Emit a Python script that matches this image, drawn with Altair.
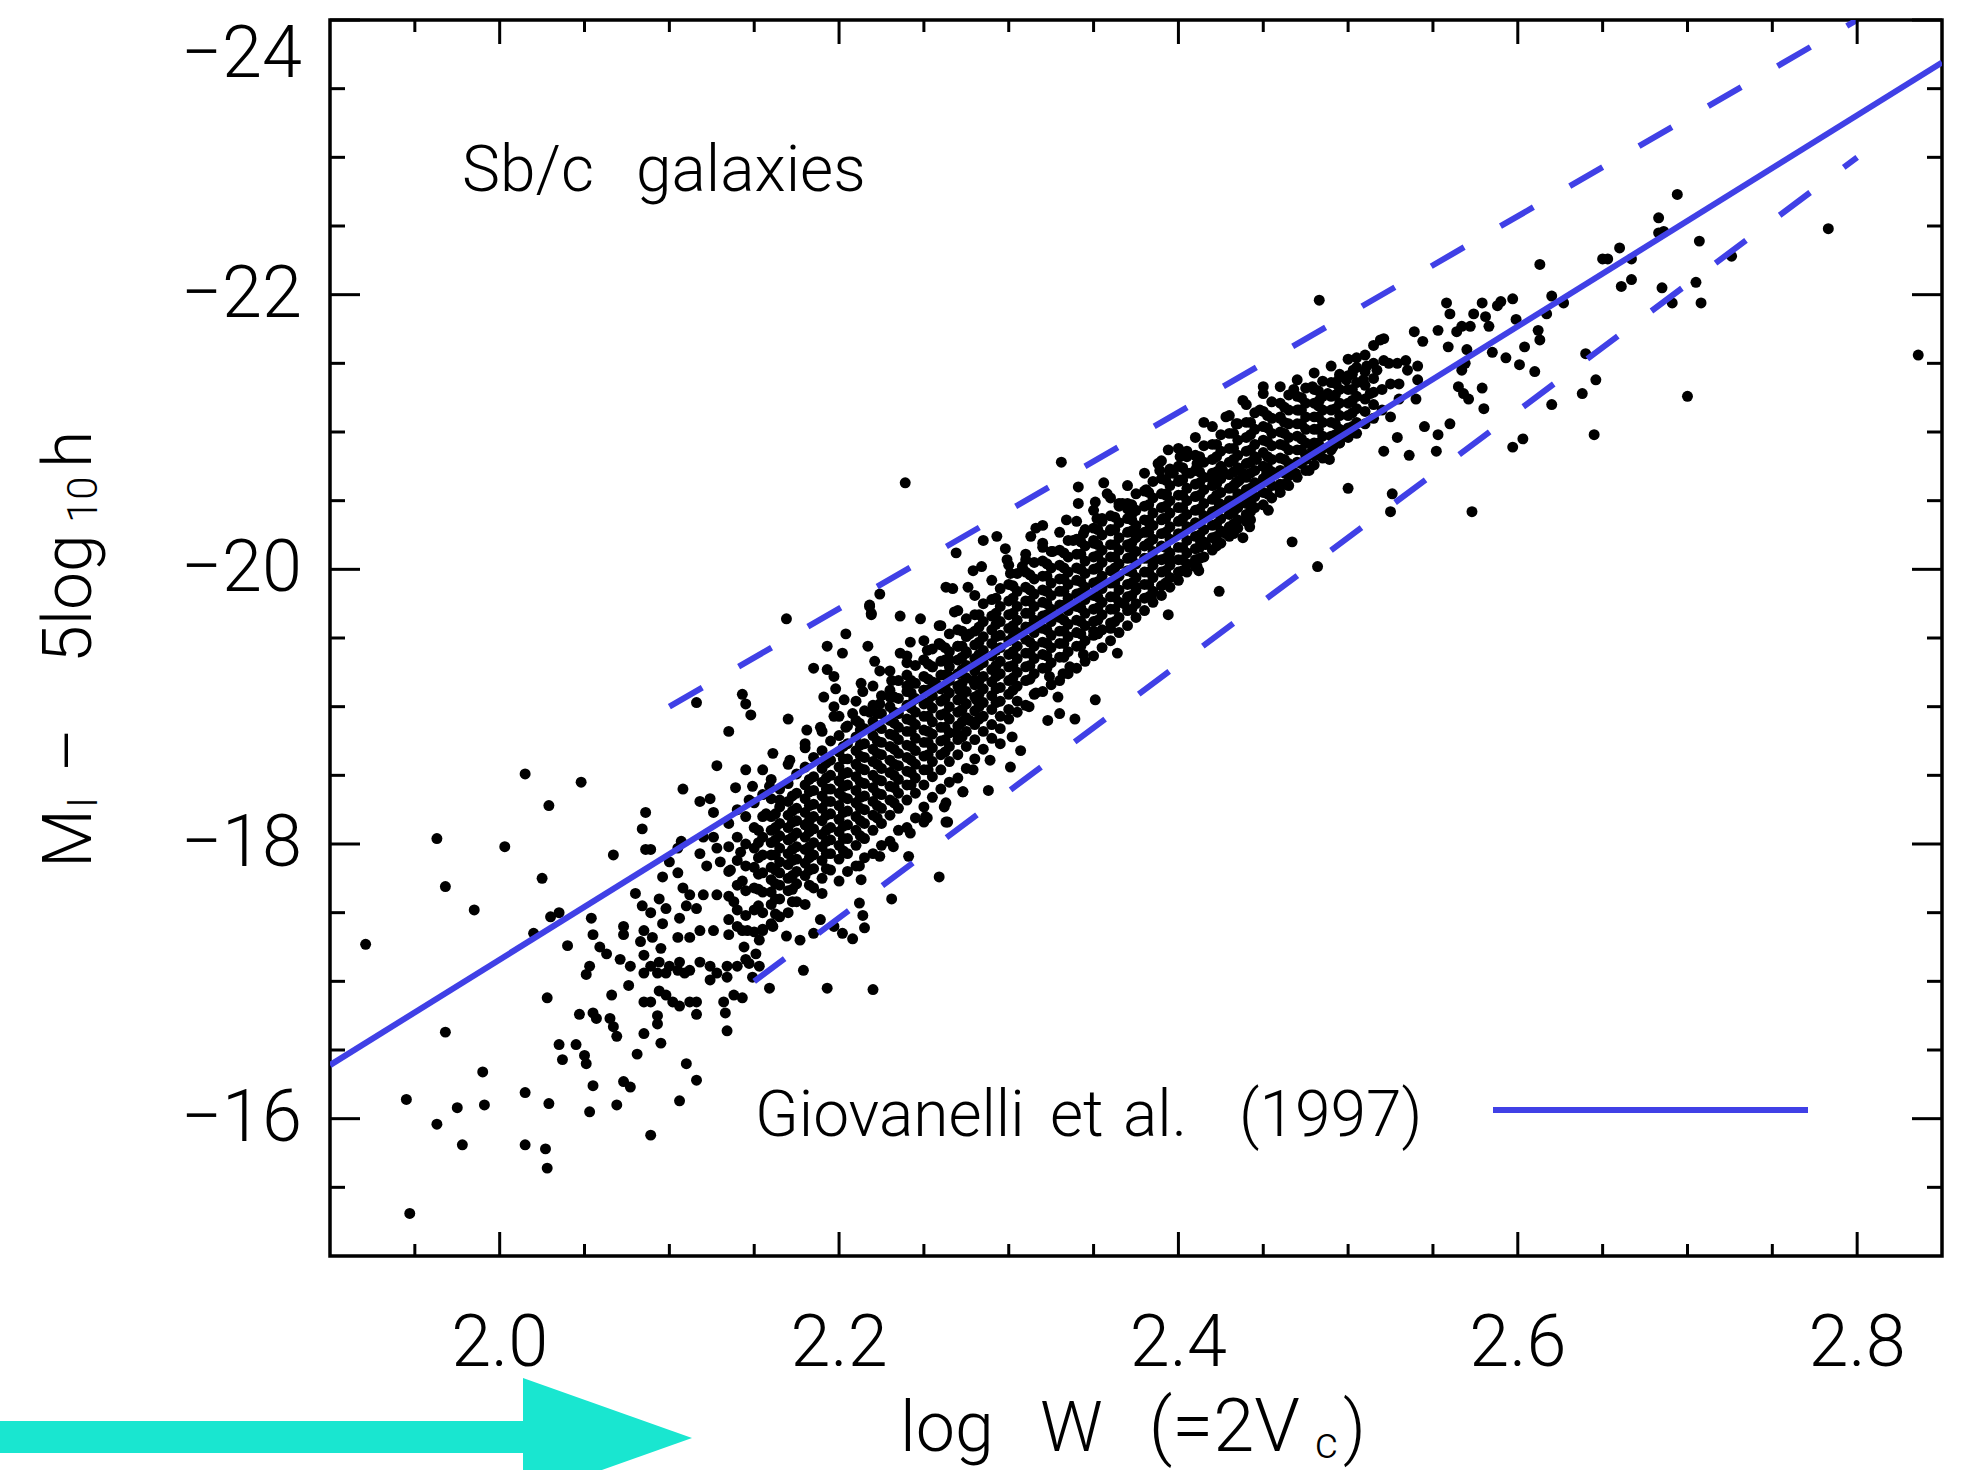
import altair as alt
import pandas as pd

# ---------------- data ----------------
x_major = [2.0, 2.2, 2.4, 2.6, 2.8]
x_labels = ["2.0", "2.2", "2.4", "2.6", "2.8"]
x_minor = [1.95, 2.05, 2.1, 2.15, 2.25, 2.3, 2.35, 2.45, 2.5, 2.55, 2.65, 2.7, 2.75]
y_major = [-24, -22, -20, -18, -16]
y_labels = ["\u221224", "\u221222", "\u221220", "\u221218", "\u221216"]
y_minor = [-23.5, -23, -22.5, -21.5, -21, -20.5, -19.5, -19, -18.5, -17.5, -17, -16.5, -15.5]

fit_x = [1.9, 2.85]
fit_y = [-16.39, -23.69]
upper_x = [2.1, 2.8]
upper_y = [-19.0, -24.0]
lower_x = [2.15, 2.8]
lower_y = [-17.0, -23.0]

pts_lowleft = [
    (2.116, -19.03), (2.135, -18.82), (2.128, -18.57), (2.139, -18.41), (2.108, -18.40), (2.015, -18.51),
    (2.048, -18.45), (2.029, -18.28), (1.963, -18.04), (2.003, -17.98), (1.968, -17.69), (1.985, -17.52),
    (1.921, -17.27), (2.025, -17.75), (2.030, -17.47), (2.035, -17.50), (2.020, -17.35), (2.040, -17.26),
    (2.067, -17.92), (2.086, -18.23), (2.084, -18.11), (2.086, -17.96), (2.089, -17.96), (2.107, -18.02),
    (2.105, -17.97), (2.118, -18.31), (2.124, -18.33), (2.126, -18.23), (2.120, -18.05), (2.126, -18.05),
    (2.118, -17.93), (2.128, -17.97), (2.100, -17.87), (2.096, -17.76), (2.105, -17.79), (2.108, -17.68),
    (2.112, -17.63), (2.122, -17.84), (2.130, -17.87), (2.136, -17.81), (2.142, -17.94), (2.143, -17.73),
    (2.138, -17.58), (2.128, -17.63), (2.120, -17.63), (2.116, -17.53), (2.118, -17.37), (2.126, -17.37),
    (2.135, -17.34), (2.143, -17.37), (2.080, -17.64), (2.084, -17.55), (2.089, -17.50), (2.094, -17.60),
    (2.098, -17.53), (2.096, -17.42), (2.106, -17.46), (2.110, -17.55), (2.054, -17.46), (2.055, -17.34),
    (2.059, -17.25), (2.063, -17.20), (2.053, -17.11), (2.051, -17.05), (2.073, -17.40), (2.073, -17.34),
    (2.083, -17.29), (2.085, -17.37), (2.090, -17.32), (2.095, -17.24), (2.105, -17.32), (2.112, -17.32),
    (2.071, -17.16), (2.077, -17.11), (2.085, -17.19), (2.089, -17.11), (2.094, -17.14), (2.100, -17.11),
    (2.106, -17.14), (2.112, -17.08), (2.118, -17.14), (2.124, -17.11), (2.128, -17.06), (2.134, -17.11),
    (2.124, -17.01), (2.134, -17.03), (2.140, -17.11), (2.145, -17.16), (2.085, -17.06), (2.093, -17.06),
    (2.098, -17.06), (2.105, -17.08), (2.109, -17.06), (2.076, -16.97), (2.066, -16.90), (2.085, -16.85),
    (2.089, -16.85), (2.094, -16.93), (2.098, -16.90), (2.102, -16.85), (2.106, -16.82), (2.112, -16.85),
    (2.116, -16.85), (2.116, -16.76), (2.132, -16.85), (2.133, -16.77), (2.138, -16.90), (2.143, -16.88),
    (2.047, -16.76), (2.055, -16.77), (2.057, -16.73), (2.065, -16.73), (2.067, -16.67), (2.069, -16.60),
    (2.093, -16.75), (2.093, -16.69), (2.085, -16.62), (2.095, -16.55), (2.081, -16.47), (2.035, -16.54),
    (2.045, -16.54), (2.037, -16.43), (2.050, -16.46), (2.051, -16.40), (2.134, -16.64), (2.110, -16.40),
    (2.116, -16.28), (2.055, -16.24), (2.073, -16.27), (2.077, -16.23), (2.015, -16.19), (2.029, -16.11),
    (1.990, -16.34), (1.991, -16.10), (1.975, -16.08), (1.945, -16.14), (1.963, -15.96), (1.978, -15.81),
    (2.015, -15.81), (2.027, -15.78), (2.028, -15.64), (2.053, -16.05), (2.069, -16.10), (2.106, -16.13),
    (2.089, -15.88), (1.947, -15.31), (1.968, -16.63), (2.028, -16.88),
]

pts_mid = [
    (2.169, -19.64), (2.218, -19.73), (2.219, -19.67), (2.236, -19.66), (2.248, -19.64), (2.268, -19.69),
    (2.259, -19.59), (2.277, -19.53), (2.204, -19.53), (2.193, -19.44), (2.202, -19.39), (2.217, -19.44),
    (2.242, -19.47), (2.252, -19.41), (2.259, -19.46), (2.270, -19.44), (2.185, -19.28), (2.193, -19.27),
    (2.221, -19.33), (2.236, -19.39), (2.240, -19.32), (2.250, -19.34), (2.255, -19.29), (2.265, -19.34),
    (2.275, -19.39), (2.143, -19.09), (2.145, -19.02), (2.148, -18.94), (2.170, -18.91), (2.197, -19.22),
    (2.198, -19.13), (2.203, -19.05), (2.191, -19.07), (2.197, -19.00), (2.213, -19.17), (2.214, -19.11),
    (2.224, -19.26), (2.231, -19.19), (2.230, -19.07), (2.224, -19.02), (2.240, -19.15), (2.244, -19.05),
    (2.250, -19.12), (2.257, -19.17), (2.265, -19.22), (2.271, -19.12), (2.279, -19.19), (2.218, -18.96),
    (2.208, -18.95), (2.212, -18.88), (2.204, -18.85), (2.197, -18.93), (2.189, -18.85), (2.181, -18.83),
    (2.180, -18.73), (2.171, -18.61), (2.161, -18.66), (2.155, -18.54), (2.145, -18.54), (2.149, -18.42),
    (2.159, -18.42), (2.165, -18.32), (2.157, -18.22), (2.147, -18.32),
    (2.259, -17.76), (2.273, -18.38), (2.263, -18.30), (2.251, -18.20), (2.264, -18.16), (2.242, -18.08),
    (2.241, -17.91), (2.232, -17.98), (2.224, -17.91), (2.231, -17.60), (2.212, -17.84), (2.213, -17.74),
    (2.212, -17.57), (2.214, -17.48), (2.215, -17.39), (2.208, -17.31), (2.202, -17.35), (2.193, -16.95),
    (2.220, -16.94), (2.179, -17.08), (2.159, -16.95), (2.153, -17.11), (2.151, -17.20), (2.153, -17.30),
    (2.155, -17.37), (2.161, -17.40), (2.169, -17.33), (2.177, -17.30), (2.185, -17.35), (2.189, -17.45),
    (2.197, -17.40), (2.146, -17.37), (2.144, -17.25), (2.147, -17.13), (2.149, -17.03),
]

pts_upper = [
    (2.239, -20.63), (2.224, -19.82), (2.218, -19.74), (2.219, -19.68), (2.269, -20.12), (2.263, -19.87),
    (2.267, -19.86), (2.276, -19.87), (2.279, -19.99), (2.284, -20.02), (2.285, -20.21), (2.293, -20.24),
    (2.298, -20.15), (2.299, -20.07), (2.301, -19.97), (2.308, -20.02), (2.310, -20.07), (2.316, -20.30),
    (2.320, -20.32), (2.313, -20.24), (2.320, -20.16), (2.326, -20.13), (2.334, -20.36), (2.341, -20.60),
    (2.341, -20.48), (2.338, -20.21), (2.351, -20.49), (2.356, -20.63), (2.358, -20.55), (2.352, -20.37),
    (2.355, -20.35), (2.344, -20.26), (2.350, -20.21), (2.360, -20.29), (2.365, -20.48), (2.370, -20.44),
    (2.371, -20.16), (2.377, -20.26), (2.383, -20.33), (2.391, -20.37), (2.393, -20.55), (2.401, -20.65),
    (2.407, -20.70), (2.411, -20.75), (2.420, -20.65), (2.426, -20.72), (2.434, -20.63), (2.438, -20.70),
    (2.381, -20.58), (2.389, -20.72), (2.395, -20.70), (2.331, -20.78),
    (2.424, -19.84), (2.394, -19.67), (2.412, -19.99), (2.384, -19.80), (2.364, -19.39), (2.351, -19.05),
    (2.339, -18.91), (2.329, -19.07), (2.330, -18.95), (2.323, -18.90), (2.344, -19.38), (2.336, -19.29),
    (2.332, -19.24), (2.324, -19.22), (2.316, -19.10), (2.312, -19.00), (2.307, -18.68), (2.302, -18.78),
    (2.301, -18.56), (2.295, -18.73), (2.289, -18.61), (2.279, -18.54), (2.288, -18.39), (2.273, -18.38),
    (2.262, -18.27), (2.263, -18.16), (2.252, -18.19), (2.281, -19.05), (2.277, -18.90), (2.269, -18.81),
]

pts_ridge = [
    (2.483, -21.96), (2.467, -20.20), (2.482, -20.02), (2.350, -19.55), (2.360, -19.57), (2.453, -20.43),
    (2.438, -20.23), (2.442, -20.31), (2.428, -20.26), (2.413, -20.20), (2.411, -20.02), (2.416, -20.18),
    (2.395, -20.07), (2.386, -20.07), (2.375, -19.87), (2.368, -19.75), (2.459, -20.60), (2.458, -20.70),
    (2.452, -20.70), (2.446, -20.80), (2.436, -20.65), (2.434, -20.50), (2.440, -20.55), (2.424, -20.48),
    (2.469, -20.70), (2.477, -20.72), (2.475, -20.80), (2.479, -20.87), (2.491, -20.89), (2.495, -20.92),
    (2.497, -20.99), (2.489, -20.80), (2.500, -20.59), (2.367, -20.48), (2.373, -20.41), (2.388, -20.77),
    (2.394, -20.87), (2.397, -20.70), (2.401, -20.82), (2.405, -20.86), (2.411, -20.77), (2.415, -21.07),
    (2.428, -21.11), (2.434, -21.06), (2.438, -21.23), (2.448, -21.16), (2.450, -21.33), (2.460, -21.11),
    (2.468, -21.31), (2.471, -21.16), (2.479, -21.33), (2.483, -21.23), (2.488, -21.28), (2.493, -21.35),
    (2.495, -21.40), (2.499, -21.38), (2.505, -21.54), (2.511, -21.48), (2.517, -21.45), (2.503, -21.45),
    (2.509, -21.38), (2.513, -21.28), (2.519, -21.67), (2.515, -21.63),
]

pts_right = [
    (2.694, -22.73), (2.683, -22.56), (2.683, -22.45), (2.686, -22.46), (2.707, -22.39), (2.783, -22.48),
    (2.660, -22.34), (2.650, -22.26), (2.653, -22.26), (2.667, -22.26), (2.613, -22.22), (2.661, -22.06),
    (2.667, -22.11), (2.685, -22.05), (2.705, -22.09), (2.726, -22.28), (2.691, -21.94), (2.708, -21.94),
    (2.620, -21.99), (2.627, -21.94), (2.617, -21.86), (2.599, -21.82), (2.612, -21.74), (2.613, -21.67),
    (2.604, -21.62), (2.610, -21.44), (2.640, -21.57), (2.646, -21.38), (2.638, -21.28), (2.620, -21.20),
    (2.645, -20.98), (2.700, -21.26), (2.836, -21.56), (2.603, -20.95), (2.597, -20.89), (2.579, -21.32),
    (2.580, -21.17), (2.565, -21.33), (2.568, -21.28), (2.571, -21.24), (2.585, -21.58), (2.593, -21.54),
    (2.601, -21.49), (2.570, -21.60), (2.569, -21.50), (2.567, -21.45), (2.558, -21.94), (2.560, -21.86),
    (2.553, -21.74), (2.559, -21.62), (2.544, -21.66), (2.539, -21.73), (2.579, -21.94), (2.574, -21.86),
    (2.572, -21.77), (2.567, -21.77), (2.564, -21.73), (2.581, -21.84), (2.583, -21.77), (2.588, -21.92),
    (2.590, -21.95), (2.597, -21.97), (2.521, -21.68), (2.521, -21.52), (2.524, -21.50), (2.529, -21.50),
    (2.534, -21.52), (2.535, -21.45), (2.541, -21.48), (2.525, -21.35), (2.530, -21.35), (2.541, -21.38),
    (2.520, -21.31), (2.525, -21.11), (2.530, -21.24), (2.540, -21.24), (2.529, -20.96), (2.521, -20.86),
    (2.536, -20.83), (2.545, -21.04), (2.553, -20.98), (2.552, -20.86), (2.560, -21.06), (2.520, -21.16),
    (2.526, -20.55), (2.525, -20.42), (2.573, -20.42),
]

# dense core of the relation, read column by column: (x, [y, ...])
core_a = [
    (2.135, [-18.15, -17.98, -17.80, -17.62, -17.45]),
    (2.140, [-18.25, -18.05, -17.88, -17.70, -17.52, -17.40]),
    (2.145, [-18.20, -18.00, -17.84, -17.66, -17.48]),
    (2.150, [-18.30, -18.12, -17.97, -17.83, -17.68, -17.52, -17.36]),
    (2.155, [-18.36, -18.20, -18.05, -17.92, -17.79, -17.65, -17.50, -17.38]),
    (2.160, [-18.47, -18.33, -18.20, -18.10, -18.01, -17.92, -17.83, -17.74, -17.65, -17.56, -17.42]),
    (2.165, [-18.40, -18.27, -18.15, -18.06, -17.97, -17.87, -17.79, -17.70, -17.60, -17.47]),
    (2.170, [-18.58, -18.44, -18.31, -18.21, -18.12, -18.03, -17.93, -17.85, -17.75, -17.66, -17.50]),
    (2.175, [-18.51, -18.37, -18.26, -18.17, -18.08, -17.98, -17.89, -17.80, -17.71, -17.58]),
    (2.180, [-18.70, -18.56, -18.43, -18.33, -18.23, -18.14, -18.05, -17.96, -17.86, -17.77, -17.56]),
    (2.185, [-18.63, -18.49, -18.39, -18.29, -18.20, -18.11, -18.01, -17.92, -17.82, -17.68]),
    (2.190, [-18.82, -18.68, -18.55, -18.45, -18.35, -18.26, -18.17, -18.07, -17.98, -17.88, -17.75, -17.64]),
    (2.195, [-18.75, -18.61, -18.50, -18.40, -18.31, -18.22, -18.12, -18.03, -17.93, -17.81]),
    (2.200, [-18.93, -18.79, -18.67, -18.56, -18.46, -18.37, -18.28, -18.18, -18.09, -17.99, -17.89, -17.73]),
    (2.205, [-18.86, -18.73, -18.62, -18.52, -18.43, -18.33, -18.24, -18.14, -18.04, -17.93, -17.80]),
    (2.210, [-19.04, -18.90, -18.78, -18.68, -18.58, -18.49, -18.39, -18.30, -18.20, -18.10, -17.99, -17.84]),
    (2.215, [-18.97, -18.84, -18.73, -18.63, -18.54, -18.44, -18.35, -18.25, -18.15, -18.04, -17.90]),
    (2.220, [-19.15, -19.01, -18.89, -18.79, -18.69, -18.60, -18.50, -18.41, -18.31, -18.21, -18.10, -17.93]),
    (2.225, [-19.08, -18.95, -18.84, -18.74, -18.65, -18.55, -18.46, -18.36, -18.26, -18.15, -17.99]),
    (2.230, [-19.26, -19.12, -19.00, -18.90, -18.80, -18.71, -18.61, -18.52, -18.42, -18.32, -18.21, -18.02]),
    (2.235, [-19.19, -19.06, -18.95, -18.85, -18.76, -18.66, -18.57, -18.47, -18.37, -18.26, -18.10]),
    (2.240, [-19.37, -19.23, -19.11, -19.01, -18.91, -18.82, -18.72, -18.63, -18.53, -18.43, -18.32, -18.12]),
    (2.245, [-19.30, -19.17, -19.06, -18.96, -18.87, -18.77, -18.68, -18.58, -18.48, -18.37, -18.19]),
]
core_b = [
    (2.250, [-19.48, -19.34, -19.22, -19.12, -19.02, -18.93, -18.83, -18.74, -18.64, -18.54, -18.43, -18.27, -18.16]),
    (2.255, [-19.42, -19.29, -19.18, -19.08, -18.99, -18.89, -18.80, -18.70, -18.60, -18.49, -18.34]),
    (2.260, [-19.59, -19.45, -19.33, -19.23, -19.13, -19.04, -18.94, -18.85, -18.75, -18.65, -18.54, -18.40]),
    (2.265, [-19.53, -19.40, -19.29, -19.19, -19.10, -19.00, -18.91, -18.81, -18.71, -18.60, -18.45]),
    (2.270, [-19.70, -19.56, -19.44, -19.34, -19.24, -19.15, -19.05, -18.96, -18.86, -18.76, -18.65, -18.48]),
    (2.275, [-19.64, -19.51, -19.40, -19.30, -19.21, -19.11, -19.02, -18.92, -18.82, -18.71, -18.55]),
    (2.280, [-19.81, -19.67, -19.55, -19.45, -19.35, -19.26, -19.16, -19.07, -18.97, -18.87, -18.76, -18.62]),
    (2.285, [-19.75, -19.62, -19.51, -19.41, -19.32, -19.22, -19.13, -19.03, -18.93, -18.82, -18.69]),
    (2.290, [-19.92, -19.78, -19.66, -19.56, -19.46, -19.37, -19.27, -19.18, -19.08, -18.98, -18.87, -18.77]),
    (2.295, [-19.86, -19.73, -19.62, -19.52, -19.43, -19.33, -19.24, -19.14, -19.04, -18.93, -18.84]),
    (2.300, [-20.03, -19.89, -19.77, -19.67, -19.57, -19.48, -19.38, -19.29, -19.19, -19.09, -18.98, -18.91]),
    (2.305, [-19.97, -19.84, -19.73, -19.63, -19.54, -19.44, -19.35, -19.25, -19.15, -19.04, -18.96]),
    (2.310, [-20.11, -19.98, -19.87, -19.77, -19.68, -19.58, -19.49, -19.39, -19.29, -19.19, -19.01]),
    (2.315, [-20.05, -19.93, -19.82, -19.73, -19.63, -19.54, -19.44, -19.35, -19.24, -19.09]),
    (2.320, [-20.19, -20.06, -19.95, -19.85, -19.76, -19.66, -19.57, -19.47, -19.38, -19.28, -19.11]),
    (2.325, [-20.13, -20.01, -19.90, -19.81, -19.71, -19.62, -19.52, -19.43, -19.32, -19.16]),
    (2.330, [-20.27, -20.14, -20.03, -19.93, -19.84, -19.74, -19.65, -19.55, -19.46, -19.36, -19.19]),
    (2.335, [-20.21, -20.09, -19.98, -19.89, -19.79, -19.70, -19.60, -19.51, -19.40, -19.24]),
    (2.340, [-20.35, -20.22, -20.11, -20.01, -19.92, -19.82, -19.73, -19.63, -19.54, -19.44, -19.28]),
    (2.345, [-20.29, -20.17, -20.06, -19.97, -19.87, -19.78, -19.68, -19.59, -19.48, -19.33]),
]
core_c = [
    (2.350, [-20.43, -20.30, -20.19, -20.09, -20.00, -19.90, -19.81, -19.71, -19.62, -19.52, -19.37]),
    (2.355, [-20.37, -20.25, -20.14, -20.05, -19.95, -19.86, -19.76, -19.67, -19.56, -19.43]),
    (2.360, [-20.52, -20.39, -20.28, -20.18, -20.09, -19.99, -19.90, -19.80, -19.71, -19.61, -19.48]),
    (2.365, [-20.46, -20.34, -20.23, -20.14, -20.04, -19.95, -19.85, -19.76, -19.65, -19.54]),
    (2.370, [-20.61, -20.48, -20.37, -20.27, -20.18, -20.08, -19.99, -19.89, -19.80, -19.70, -19.59]),
    (2.375, [-20.55, -20.43, -20.32, -20.23, -20.13, -20.04, -19.94, -19.85, -19.75, -19.65]),
    (2.380, [-20.70, -20.57, -20.46, -20.36, -20.27, -20.17, -20.08, -19.98, -19.89, -19.79, -19.70]),
    (2.385, [-20.64, -20.52, -20.41, -20.32, -20.22, -20.13, -20.03, -19.94, -19.84, -19.76]),
    (2.390, [-20.79, -20.66, -20.55, -20.45, -20.36, -20.26, -20.17, -20.07, -19.98, -19.88, -19.81]),
    (2.395, [-20.73, -20.61, -20.50, -20.41, -20.31, -20.22, -20.12, -20.03, -19.94, -19.87]),
    (2.400, [-20.88, -20.75, -20.64, -20.54, -20.45, -20.35, -20.26, -20.16, -20.07, -19.98, -19.92]),
    (2.405, [-20.82, -20.70, -20.59, -20.50, -20.40, -20.31, -20.21, -20.12, -20.04, -19.98]),
    (2.410, [-20.96, -20.83, -20.72, -20.62, -20.53, -20.43, -20.34, -20.24, -20.15, -20.07, -20.02]),
    (2.415, [-20.90, -20.78, -20.67, -20.58, -20.48, -20.39, -20.29, -20.20, -20.09]),
    (2.420, [-21.04, -20.91, -20.80, -20.70, -20.61, -20.51, -20.42, -20.32, -20.23, -20.14]),
    (2.425, [-20.98, -20.86, -20.75, -20.66, -20.56, -20.47, -20.37, -20.28, -20.19]),
    (2.430, [-21.12, -20.99, -20.88, -20.78, -20.69, -20.59, -20.50, -20.40, -20.31, -20.24]),
    (2.435, [-21.06, -20.94, -20.83, -20.74, -20.64, -20.55, -20.45, -20.36, -20.30]),
    (2.440, [-21.20, -21.07, -20.96, -20.86, -20.77, -20.67, -20.58, -20.48, -20.40, -20.35]),
    (2.445, [-21.14, -21.02, -20.91, -20.82, -20.72, -20.63, -20.53, -20.45]),
]
core_d = [
    (2.450, [-21.28, -21.15, -21.04, -20.94, -20.85, -20.75, -20.66, -20.56, -20.47]),
    (2.455, [-21.22, -21.10, -20.99, -20.90, -20.80, -20.71, -20.61, -20.52]),
    (2.460, [-21.33, -21.21, -21.10, -21.00, -20.91, -20.81, -20.72, -20.62, -20.56]),
    (2.465, [-21.27, -21.16, -21.06, -20.96, -20.87, -20.77, -20.68, -20.61]),
    (2.470, [-21.38, -21.26, -21.16, -21.06, -20.97, -20.87, -20.78, -20.67]),
    (2.475, [-21.32, -21.21, -21.11, -21.02, -20.92, -20.83, -20.72]),
    (2.480, [-21.43, -21.31, -21.21, -21.11, -21.02, -20.92, -20.83, -20.76]),
    (2.485, [-21.37, -21.26, -21.16, -21.07, -20.97, -20.88, -20.81]),
    (2.490, [-21.48, -21.36, -21.26, -21.16, -21.07, -20.97, -20.87]),
    (2.495, [-21.42, -21.31, -21.21, -21.12, -21.02, -20.92]),
    (2.500, [-21.53, -21.41, -21.31, -21.21, -21.12, -21.03, -20.96]),
    (2.505, [-21.47, -21.36, -21.26, -21.17, -21.07, -20.99]),
    (2.510, [-21.56, -21.44, -21.34, -21.24, -21.15, -21.06]),
    (2.515, [-21.50, -21.39, -21.29, -21.20, -21.10]),
]
# extra galaxies packed in between the columns where the cloud is solid black
core_fill = [
    (2.1525, [-18.10, -18.01, -17.90, -17.78, -17.67, -17.55]),
    (2.1625, [-18.22, -18.12, -18.03, -17.92, -17.81, -17.71, -17.60, -17.49]),
    (2.1725, [-18.35, -18.24, -18.16, -18.05, -17.96, -17.88, -17.77, -17.67, -17.58]),
    (2.1825, [-18.47, -18.38, -18.28, -18.17, -18.09, -17.98, -17.90, -17.81, -17.70]),
    (2.1925, [-18.59, -18.48, -18.40, -18.31, -18.21, -18.10, -18.02, -17.93, -17.82]),
    (2.2025, [-18.71, -18.62, -18.51, -18.42, -18.34, -18.23, -18.13, -18.04, -17.95]),
    (2.2125, [-18.83, -18.72, -18.64, -18.55, -18.45, -18.34, -18.26, -18.17, -18.06]),
    (2.2225, [-18.95, -18.86, -18.75, -18.66, -18.58, -18.47, -18.37, -18.28, -18.19]),
    (2.2325, [-19.07, -18.96, -18.88, -18.79, -18.69, -18.58, -18.50, -18.41, -18.30]),
    (2.2425, [-19.19, -19.10, -18.99, -18.90, -18.82, -18.71, -18.61, -18.52, -18.43]),
    (2.2525, [-19.31, -19.20, -19.12, -19.03, -18.93, -18.82, -18.74, -18.65, -18.54]),
    (2.2625, [-19.43, -19.34, -19.23, -19.14, -19.06, -18.95, -18.85, -18.76, -18.67]),
    (2.2725, [-19.55, -19.44, -19.36, -19.27, -19.17, -19.06, -18.98, -18.89, -18.78]),
    (2.2825, [-19.67, -19.58, -19.47, -19.38, -19.30, -19.19, -19.09, -19.00, -18.91]),
    (2.2925, [-19.79, -19.68, -19.60, -19.51, -19.41, -19.30, -19.22, -19.13, -19.03]),
    (2.3025, [-19.88, -19.79, -19.68, -19.59, -19.51, -19.40, -19.30, -19.21, -19.12]),
    (2.3125, [-19.96, -19.85, -19.77, -19.68, -19.58, -19.47, -19.39, -19.30, -19.20]),
    (2.3225, [-20.04, -19.95, -19.84, -19.75, -19.67, -19.56, -19.46, -19.37, -19.28]),
    (2.3325, [-20.12, -20.01, -19.93, -19.84, -19.74, -19.63, -19.55, -19.46, -19.36]),
    (2.3425, [-20.20, -20.11, -20.00, -19.91, -19.83, -19.72, -19.62, -19.53, -19.44]),
    (2.3525, [-20.29, -20.18, -20.10, -20.01, -19.91, -19.80, -19.72, -19.63, -19.53]),
    (2.3625, [-20.38, -20.29, -20.18, -20.09, -20.01, -19.90, -19.80, -19.71, -19.62]),
    (2.3725, [-20.47, -20.36, -20.28, -20.19, -20.09, -19.98, -19.90, -19.81, -19.71]),
    (2.3825, [-20.56, -20.47, -20.36, -20.27, -20.19, -20.08, -19.98, -19.89, -19.80]),
    (2.3925, [-20.65, -20.54, -20.46, -20.37, -20.27, -20.16, -20.08, -19.99, -19.90]),
    (2.4025, [-20.74, -20.65, -20.54, -20.45, -20.37, -20.26, -20.16, -20.07, -19.99]),
    (2.4125, [-20.82, -20.71, -20.63, -20.54, -20.44, -20.33, -20.25, -20.16, -20.08]),
    (2.4225, [-20.91, -20.82, -20.71, -20.62, -20.54, -20.43, -20.33, -20.24, -20.17]),
    (2.4325, [-20.99, -20.88, -20.80, -20.71, -20.61, -20.50, -20.42, -20.33, -20.26]),
    (2.4425, [-21.07, -20.98, -20.87, -20.78, -20.70, -20.59, -20.49, -20.42, -20.36]),
    (2.4525, [-21.12, -21.03, -20.93, -20.82, -20.74, -20.64, -20.55]),
    (2.4625, [-21.18, -21.07, -20.99, -20.90, -20.80, -20.70, -20.62]),
    (2.4725, [-21.25, -21.16, -21.06, -20.95, -20.87, -20.77]),
    (2.4825, [-21.30, -21.19, -21.11, -21.02, -20.92, -20.83]),
    (2.4925, [-21.36, -21.27, -21.17, -21.06, -20.98]),
    (2.5025, [-21.42, -21.31, -21.23, -21.14, -21.04]),
]

# ---------------- build tables ----------------
rows = []
for lst in (pts_lowleft, pts_mid, pts_upper, pts_ridge, pts_right):
    rows.extend(lst)
for cols in (core_a, core_b, core_c, core_d, core_fill):
    for cx, ys in cols:
        rows.extend((cx, yy) for yy in ys)
df_pts = pd.DataFrame(rows, columns=["x", "y"])

W, H = 1612, 1236
FONT = "Roboto"
FW = 300
BLUE = "#4040E6"
TURQ = "#19E6D0"

XS = alt.Scale(domain=[1.9, 2.85], nice=False, zero=False)
YS = alt.Scale(domain=[-24, -15], reverse=True, nice=False, zero=False)

points = alt.Chart(df_pts).mark_circle(size=120, color="black", opacity=1).encode(
    x=alt.X("x:Q", scale=XS, axis=None),
    y=alt.Y("y:Q", scale=YS, axis=None),
)


def line_layer(xs, ys, dash=None):
    kw = dict(color=BLUE, strokeWidth=6, clip=True)
    if dash:
        kw["strokeDash"] = dash
    return alt.Chart(pd.DataFrame({"x": xs, "y": ys})).mark_line(**kw).encode(
        x=alt.X("x:Q", scale=XS, axis=None), y=alt.Y("y:Q", scale=YS, axis=None))


fit = line_layer(fit_x, fit_y)
up = line_layer(upper_x, upper_y, [38, 42])
lo = line_layer(lower_x, lower_y, [38, 42])


def xticks(vals, length, top):
    y0, y1 = (0, length) if top else (H, H - length)
    return alt.Chart(pd.DataFrame({"v": vals})).mark_rule(color="black", strokeWidth=3).encode(
        x=alt.X("v:Q", scale=XS, axis=None), y=alt.value(y0), y2=alt.value(y1))


def yticks(vals, length, right):
    x0, x1 = (W, W - length) if right else (0, length)
    return alt.Chart(pd.DataFrame({"v": vals})).mark_rule(color="black", strokeWidth=3).encode(
        y=alt.Y("v:Q", scale=YS, axis=None), x=alt.value(x0), x2=alt.value(x1))


tick_layers = [
    xticks(x_major, 24, False), xticks(x_minor, 12, False),
    xticks(x_major, 24, True), xticks(x_minor, 12, True),
    yticks(y_major, 30, False), yticks(y_minor, 15, False),
    yticks(y_major, 30, True), yticks(y_minor, 15, True),
]

# tick labels
df_xl = pd.DataFrame({"v": x_major, "t": x_labels})
df_yl = pd.DataFrame({"v": y_major, "t": y_labels})
xlab = alt.Chart(df_xl).mark_text(align="center", baseline="top", fontSize=72, font=FONT,
                                  fontWeight=FW, color="black").encode(
    x=alt.X("v:Q", scale=XS, axis=None), y=alt.value(H + 53), text="t:N")
ylab_top = alt.Chart(df_yl.iloc[:1]).mark_text(align="right", baseline="top", fontSize=72, font=FONT,
                                               fontWeight=FW, color="black").encode(
    y=alt.Y("v:Q", scale=YS, axis=None), x=alt.value(-28), text="t:N")
ylab = alt.Chart(df_yl.iloc[1:]).mark_text(align="right", baseline="middle", fontSize=72, font=FONT,
                                           fontWeight=FW, color="black").encode(
    y=alt.Y("v:Q", scale=YS, axis=None), x=alt.value(-28), text="t:N")


def txt(s, x, y, size, angle=0, align="left", baseline="alphabetic"):
    return alt.Chart(pd.DataFrame({"t": [s]})).mark_text(
        align=align, baseline=baseline, angle=angle, fontSize=size, font=FONT,
        fontWeight=FW, color="black").encode(x=alt.value(x), y=alt.value(y), text="t:N")


texts = [
    txt("Sb/c", 132, 171, 64), txt("galaxies", 306, 171, 64),
    txt("Giovanelli", 425, 1116, 64), txt("et", 720, 1116, 64),
    txt("al.", 793, 1116, 64), txt("(1997)", 909, 1116, 64),
    # x title
    txt("log", 570, 1431, 70), txt("W", 710, 1431, 70),
    txt("(=2V", 970, 1431, 74, align="right"),
    txt("c", 985, 1438, 44), txt(")", 1013, 1431, 70),
    # y title (rotated)
    txt("M", -239, 848, 68, angle=270), txt("I", -233, 788, 42, angle=270),
    txt("\u2013", -239, 730, 68, angle=270, align="center"),
    txt("5log", -239, 643, 68, angle=270), txt("10", -233, 503, 42, angle=270),
    txt("h", -239, 448, 68, angle=270),
]

one = pd.DataFrame({"k": [0]})
legend_line = alt.Chart(one).mark_rule(color=BLUE, strokeWidth=6).encode(
    x=alt.value(1163), x2=alt.value(1478), y=alt.value(1090))
arrow_shaft = alt.Chart(one).mark_rule(color=TURQ, strokeWidth=32, strokeCap="butt").encode(
    x=alt.value(-330), x2=alt.value(196), y=alt.value(1417))
arrow_head = alt.Chart(one).mark_point(shape="M-1,-0.71L1,0L-1,0.71Z", size=28561, filled=True,
                                       color=TURQ, opacity=1, strokeWidth=0).encode(
    x=alt.value(277.5), y=alt.value(1418))

chart = alt.layer(points, fit, up, lo, legend_line, *tick_layers, xlab, ylab_top, ylab,
                  *texts, arrow_shaft, arrow_head).properties(
    width=W, height=H,
    autosize=alt.AutoSizeParams(type="none"),
    padding={"left": 330, "top": 20, "right": 31, "bottom": 214},
).configure_view(stroke="black", strokeWidth=3.5)

chart.save("out.html", embed_options={"renderer": "svg", "actions": False})
